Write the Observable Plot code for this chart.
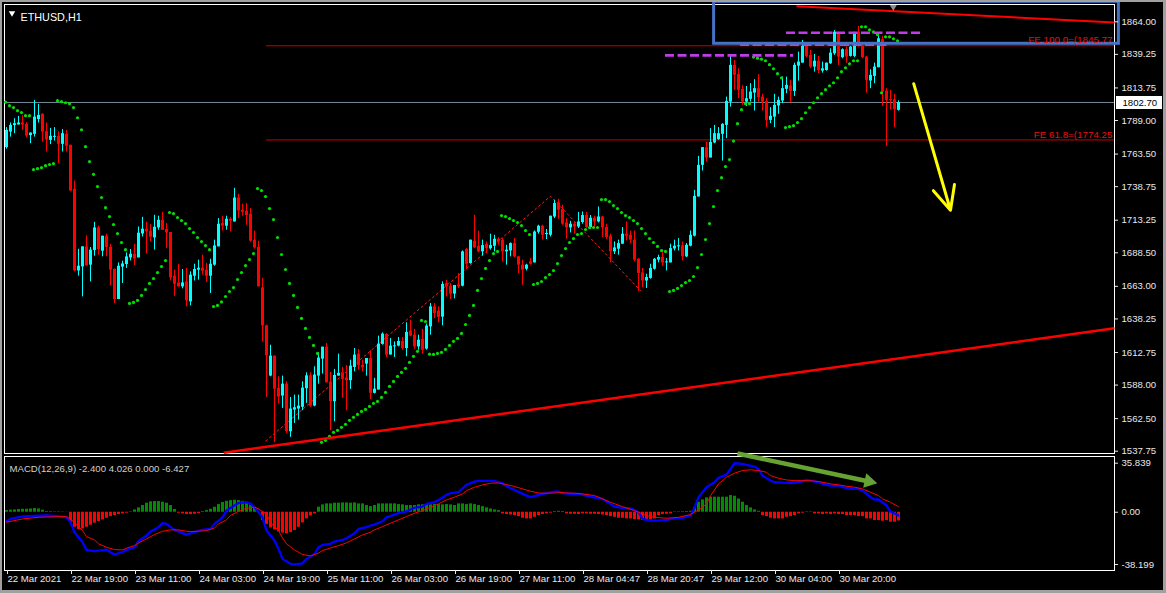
<!DOCTYPE html>
<html><head><meta charset="utf-8">
<script src="https://cdn.jsdelivr.net/npm/d3@7"></script>
<script src="https://cdn.jsdelivr.net/npm/@observablehq/plot@0.6"></script>
<style>
html,body{margin:0;padding:0;background:#000;}
#wrap{position:relative;width:1166px;height:593px;background:#000;overflow:hidden;}
#wrap svg{position:absolute;left:0;overflow:visible;}
.bd{position:absolute;background:#a0a0a0;}
</style></head><body>
<div id="wrap"></div>
<script>
// ---------------- DATA ----------------
const symbolTitle = "ETHUSD,H1";
const macdTitle = "MACD(12,26,9) -2.400 4.026 0.000 -6.427";
const priceTicks = [1864.00,1839.25,1813.75,1789.00,1763.50,1738.75,1713.25,1688.50,1663.00,1638.25,1612.75,1588.00,1562.50,1537.75];
const macdTicks = [35.839, 0, -38.199];
const timeTickBars = [1,17,33,49,65,81,97,113,129,145,161,177,193,209];
const timeLabels = ["22 Mar 2021","22 Mar 19:00","23 Mar 11:00","24 Mar 03:00","24 Mar 19:00","25 Mar 11:00","26 Mar 03:00","26 Mar 19:00","27 Mar 11:00","28 Mar 04:47","28 Mar 20:47","29 Mar 12:00","30 Mar 04:00","30 Mar 20:00"];
const lastPrice = 1802.70;

const openP = [
1768.4,1780.2,1785.1,1785.6,1787.1,1786.1,1777.5,1778.5,1789.7,1793.7,
1780.5,1773.9,1776.2,1777.0,1770.9,1778.5,1770.2,1736.7,1674.7,1677.8,
1693.0,1679.1,1690.2,1707.4,1689.7,1701.1,1692.7,1676.0,1653.0,1677.6,
1679.6,1684.6,1687.4,1684.6,1702.8,1706.4,1704.9,1699.8,1707.4,1713.2,
1706.2,1703.9,1670.7,1665.6,1662.6,1666.4,1651.2,1670.7,1675.3,1676.8,
1675.3,1670.7,1679.1,1693.0,1710.7,1708.7,1714.0,1711.9,1730.1,1720.8,
1720.1,1717.8,1698.1,1692.7,1661.8,1633.0,1594.8,1610.0,1585.5,1579.6,
1588.7,1552.5,1569.0,1569.8,1571.1,1585.2,1595.0,1572.0,1594.8,1607.7,
1616.8,1590.3,1575.3,1594.8,1597.3,1593.3,1591.3,1601.4,1611.5,1602.9,
1603.9,1608.2,1581.7,1584.2,1618.9,1626.5,1610.8,1617.0,1617.6,1621.1,
1615.8,1629.0,1625.9,1617.0,1622.6,1615.3,1632.2,1647.4,1644.2,1639.6,
1665.2,1663.1,1657.1,1664.1,1663.1,1691.0,1680.3,1697.3,1693.5,1689.2,
1694.8,1691.7,1693.5,1698.8,1698.1,1689.2,1689.9,1695.5,1685.4,1679.1,
1676.0,1681.6,1680.8,1704.1,1708.7,1702.4,1701.8,1715.7,1726.6,1721.6,
1711.2,1707.4,1710.2,1708.1,1711.5,1716.8,1707.7,1714.7,1711.9,1715.7,
1707.7,1701.1,1689.2,1691.2,1695.0,1702.6,1701.8,1698.1,1683.6,1673.2,
1667.1,1669.0,1676.0,1682.9,1684.9,1680.8,1680.8,1691.4,1693.0,1693.8,
1685.4,1693.5,1701.1,1730.9,1754.9,1768.4,1760.5,1771.9,1774.5,1778.5,
1785.3,1803.0,1830.9,1824.0,1812.7,1803.0,1805.1,1809.8,1813.2,1806.8,
1803.5,1789.1,1791.6,1800.0,1803.8,1812.7,1815.2,1811.1,1830.3,1832.6,
1845.3,1838.5,1829.6,1834.1,1826.5,1827.0,1832.1,1839.7,1854.9,1836.7,
1842.8,1837.7,1837.7,1856.1,1846.0,1837.2,1819.0,1822.5,1829.1,1850.4,
1811.3,1804.8,1804.8,1796.7];
const highP = [
1783.6,1787.1,1790.4,1792.2,1792.7,1787.4,1779.5,1804.3,1801.3,1794.2,
1787.1,1783.0,1783.6,1780.5,1782.1,1781.5,1770.2,1743.0,1691.2,1693.0,
1701.3,1692.5,1711.7,1708.7,1701.1,1702.6,1695.0,1676.0,1680.8,1682.1,
1688.4,1691.0,1695.0,1708.1,1715.5,1711.7,1709.9,1717.0,1716.3,1719.3,
1710.7,1703.9,1675.3,1679.8,1675.8,1676.6,1674.0,1679.8,1682.9,1686.7,
1680.3,1683.6,1698.1,1714.5,1716.3,1716.3,1715.3,1737.5,1733.0,1725.4,
1725.9,1722.1,1704.9,1697.3,1669.0,1633.5,1618.3,1610.0,1594.3,1594.8,
1590.5,1578.6,1580.4,1580.4,1590.5,1597.3,1597.3,1601.9,1612.5,1616.8,
1619.6,1597.6,1599.9,1611.5,1601.4,1602.9,1606.9,1615.8,1615.1,1606.9,
1608.2,1614.0,1593.1,1625.2,1627.7,1627.2,1623.4,1620.8,1624.2,1624.2,
1635.3,1637.3,1630.3,1625.9,1630.3,1634.3,1650.0,1650.0,1647.4,1666.4,
1667.7,1665.2,1663.6,1672.8,1689.9,1691.7,1698.1,1717.0,1704.9,1698.1,
1696.8,1702.6,1701.8,1700.1,1699.3,1694.2,1696.0,1699.3,1685.9,1682.9,
1679.8,1684.1,1705.1,1709.4,1709.4,1706.2,1716.3,1728.4,1729.2,1724.6,
1714.5,1712.4,1711.9,1719.1,1719.5,1719.1,1716.8,1716.3,1723.3,1716.3,
1710.2,1702.6,1696.8,1698.1,1707.7,1711.9,1704.9,1705.1,1684.1,1676.6,
1672.2,1679.8,1684.1,1686.7,1690.5,1684.1,1695.0,1698.1,1699.3,1696.8,
1695.5,1705.1,1736.0,1761.8,1768.4,1772.4,1782.8,1785.3,1783.6,1786.6,
1806.8,1837.7,1834.6,1828.3,1815.7,1814.9,1817.0,1820.0,1823.8,1808.9,
1805.6,1798.8,1808.9,1806.8,1822.0,1822.0,1819.5,1832.6,1841.0,1849.8,
1847.3,1842.2,1839.2,1837.7,1833.4,1832.6,1843.5,1857.4,1856.1,1843.5,
1844.8,1845.3,1856.1,1860.5,1847.3,1837.7,1827.6,1832.6,1852.9,1852.9,
1813.2,1811.9,1808.9,1803.9];
const lowP = [
1767.3,1776.4,1779.0,1785.6,1781.5,1775.7,1771.4,1776.4,1787.1,1772.6,
1765.1,1770.7,1773.4,1756.3,1765.1,1765.1,1735.0,1674.0,1670.7,1655.0,
1678.5,1666.4,1685.9,1686.7,1685.4,1685.4,1663.3,1650.0,1653.0,1665.2,
1676.6,1682.3,1678.8,1684.6,1700.5,1687.6,1696.8,1690.5,1705.6,1705.6,
1691.7,1667.1,1655.5,1662.6,1661.1,1647.4,1648.2,1667.1,1667.7,1671.5,
1666.0,1657.6,1678.3,1693.0,1705.1,1705.6,1704.3,1711.9,1714.5,1716.3,
1709.4,1696.5,1691.4,1662.6,1620.8,1578.6,1594.3,1544.2,1573.6,1570.3,
1551.3,1548.3,1558.9,1561.4,1568.5,1574.1,1571.1,1571.5,1588.7,1596.3,
1589.7,1553.3,1560.1,1594.8,1577.9,1568.5,1584.7,1598.1,1599.3,1598.1,
1594.8,1577.1,1581.2,1584.2,1618.3,1609.0,1610.8,1609.0,1617.0,1614.5,
1609.5,1624.7,1615.1,1614.5,1611.5,1614.5,1625.9,1638.6,1635.3,1633.0,
1655.0,1653.0,1653.5,1661.4,1662.6,1675.8,1679.8,1691.7,1688.4,1685.9,
1687.9,1690.5,1689.2,1694.2,1681.6,1679.1,1685.4,1684.9,1672.8,1663.9,
1674.7,1679.1,1680.8,1702.6,1698.1,1698.6,1700.5,1714.5,1714.0,1709.4,
1698.8,1703.6,1702.6,1706.9,1710.2,1706.9,1706.2,1706.9,1711.2,1700.1,
1698.6,1680.8,1687.2,1686.7,1695.0,1697.5,1695.5,1681.6,1658.8,1662.1,
1661.4,1668.4,1675.3,1680.8,1678.3,1674.7,1680.8,1689.9,1689.9,1682.3,
1684.9,1693.0,1700.5,1730.9,1750.6,1757.5,1760.5,1771.4,1773.9,1758.2,
1775.2,1799.2,1811.9,1805.6,1800.5,1799.7,1803.0,1796.2,1803.0,1796.2,
1783.6,1786.6,1783.6,1793.7,1801.8,1809.4,1802.3,1807.3,1818.9,1832.6,
1836.7,1828.3,1825.8,1824.5,1825.0,1826.5,1831.6,1838.5,1830.9,1835.9,
1832.6,1837.2,1836.7,1844.8,1835.9,1809.8,1813.2,1817.0,1829.1,1799.7,
1769.4,1796.9,1783.6,1796.2];
const closeP = [
1781.5,1785.3,1786.6,1787.1,1785.6,1777.2,1779.5,1791.6,1792.9,1780.2,
1774.2,1777.0,1777.0,1770.9,1779.0,1769.4,1735.5,1674.7,1678.3,1693.0,
1678.5,1690.5,1707.4,1691.0,1701.1,1692.5,1675.3,1653.0,1678.3,1680.0,
1685.4,1687.4,1683.8,1703.4,1706.4,1704.3,1700.3,1707.9,1713.2,1705.6,
1703.6,1669.4,1664.6,1662.6,1665.6,1652.0,1671.5,1675.8,1676.8,1674.5,
1670.7,1679.8,1693.7,1710.2,1708.7,1714.0,1712.4,1730.1,1720.3,1719.3,
1716.8,1697.3,1692.2,1662.6,1633.0,1610.2,1610.0,1584.9,1578.9,1588.7,
1552.5,1569.8,1570.8,1572.0,1585.7,1595.0,1572.0,1595.6,1608.5,1616.8,
1589.7,1575.3,1595.3,1596.9,1592.3,1591.3,1602.4,1610.8,1602.9,1601.1,
1608.2,1581.7,1584.9,1619.1,1626.7,1610.8,1617.6,1617.8,1621.1,1615.8,
1628.0,1625.2,1617.0,1622.1,1614.5,1632.8,1647.4,1642.4,1639.4,1664.4,
1662.6,1657.1,1663.6,1662.6,1689.2,1679.8,1698.1,1692.2,1689.2,1694.0,
1691.7,1694.0,1698.8,1696.8,1689.2,1690.5,1695.5,1685.4,1679.1,1675.3,
1679.1,1679.8,1704.3,1708.7,1701.8,1703.1,1716.3,1725.9,1720.8,1710.2,
1707.4,1710.2,1708.1,1711.9,1716.8,1707.7,1714.7,1711.9,1715.7,1707.4,
1700.1,1689.2,1692.2,1695.5,1702.6,1701.1,1698.1,1682.9,1672.8,1667.1,
1669.7,1676.6,1683.6,1684.9,1680.8,1681.6,1691.7,1693.5,1693.8,1685.4,
1694.2,1701.8,1731.4,1754.9,1768.4,1760.5,1772.4,1779.0,1779.0,1786.1,
1803.5,1830.9,1823.3,1811.9,1803.0,1805.6,1810.6,1813.2,1806.3,1803.0,
1789.1,1792.2,1800.5,1804.3,1813.2,1815.7,1811.1,1830.9,1833.4,1845.3,
1837.7,1829.6,1834.1,1827.0,1828.3,1832.6,1840.2,1856.1,1837.2,1842.8,
1837.2,1844.8,1854.9,1846.0,1836.7,1819.5,1823.3,1829.6,1851.1,1810.6,
1804.3,1804.3,1797.2,1802.7];
const sarP = [
1803.0,1800.3,1798.8,1796.5,1795.0,1792.7,1792.7,1751.7,1752.4,1753.2,
1754.7,1755.5,1756.2,1804.1,1803.3,1802.5,1801.8,1798.8,1791.1,1782.0,
1769.1,1757.8,1748.1,1738.8,1730.5,1722.8,1716.0,1709.9,1703.1,1696.3,
1690.9,1650.0,1650.8,1652.3,1656.1,1660.6,1665.2,1668.9,1673.5,1678.1,
1682.6,1719.1,1718.3,1715.3,1713.0,1710.7,1706.9,1703.9,1700.1,1697.0,
1694.0,1690.9,1647.7,1648.5,1651.2,1655.3,1659.1,1662.1,1668.2,1673.5,
1678.8,1683.4,1687.9,1737.3,1735.8,1731.2,1722.1,1713.7,1700.1,1687.2,
1675.8,1665.2,1656.1,1647.0,1638.6,1631.0,1624.2,1618.1,1612.0,1544.5,
1546.0,1549.0,1552.1,1553.6,1555.9,1558.2,1561.2,1563.5,1565.7,1568.0,
1569.5,1571.8,1574.1,1575.6,1578.6,1582.4,1587.0,1590.8,1594.6,1597.6,
1600.7,1605.2,1609.8,1613.6,1637.1,1636.3,1611.5,1611.3,1612.0,1612.8,
1615.1,1618.1,1621.2,1623.4,1627.2,1634.0,1640.9,1648.5,1659.9,1668.9,
1676.6,1682.6,1687.9,1689.5,1716.8,1716.0,1714.5,1713.0,1711.5,1709.2,
1705.4,1702.4,1664.4,1665.2,1666.7,1669.7,1672.0,1675.0,1680.3,1686.4,
1691.7,1696.3,1699.3,1702.4,1703.1,1706.2,1707.7,1707.7,1707.7,1728.9,
1728.9,1727.4,1724.4,1722.1,1719.1,1716.8,1715.3,1713.0,1710.7,1706.9,
1703.1,1699.3,1696.3,1693.3,1690.2,1689.5,1659.1,1659.9,1661.4,1663.6,
1665.9,1667.4,1670.5,1677.3,1687.2,1698.6,1710.7,1723.6,1735.8,1745.6,
1754.0,1759.3,1773.4,1786.6,1797.2,1801.8,1801.8,1837.2,1836.4,1835.6,
1834.4,1831.4,1828.3,1824.6,1821.5,1783.6,1784.3,1785.1,1787.4,1790.4,
1794.9,1798.8,1802.5,1806.3,1809.4,1812.4,1815.4,1817.7,1821.5,1826.1,
1829.1,1832.1,1834.4,1834.4,1860.2,1860.2,1857.9,1856.3,1854.2,1810.0,
1852.6,1852.6,1851.1,1849.6];
const histV = [
1.2,1.5,1.7,2.0,2.2,2.2,2.4,2.7,2.4,1.5,
0.5,0.4,0.3,0.3,0.2,0.1,-7.3,-11.0,-12.7,-12.2,
-11.0,-9.5,-8.0,-6.8,-5.6,-4.4,-3.2,-2.4,-1.7,-1.2,
-0.7,0.3,1.7,3.2,4.9,6.6,7.6,7.8,7.8,7.3,
6.6,4.9,2.0,-0.7,-1.2,-1.7,-1.7,-1.5,-1.0,0.5,
1.2,2.2,3.7,5.6,7.1,8.0,8.5,8.8,8.5,8.0,
7.3,6.1,3.2,-0.5,-6.1,-9.0,-11.5,-12.9,-14.4,-15.3,
-15.8,-14.9,-13.4,-11.0,-7.8,-4.9,-2.7,-1.2,3.7,5.4,
6.1,6.1,6.6,6.6,6.8,6.8,6.6,6.8,6.1,6.1,
4.9,4.1,4.9,6.1,6.1,6.1,6.1,6.1,5.6,5.4,
4.9,4.9,4.9,5.4,5.4,5.6,5.4,5.6,5.6,5.4,
5.6,5.4,4.9,6.1,6.1,5.6,6.1,5.6,4.9,4.1,
3.2,2.4,1.7,1.2,-1.2,-1.7,-2.0,-2.4,-3.2,-4.4,
-4.9,-4.9,-3.7,-2.4,-1.7,-1.2,-0.7,0.5,0.7,0.5,
-1.2,-1.5,-1.5,-1.7,-1.2,-1.2,-1.5,-1.5,-1.7,-2.0,
-2.4,-3.2,-3.7,-4.4,-4.4,-4.9,-4.9,-5.4,-5.6,-6.1,
-6.1,-5.6,-4.9,-2.4,-1.7,-1.5,-1.2,0.3,0.3,0.4,
0.5,0.7,3.2,7.3,9.0,10.5,11.0,11.0,11.0,11.0,
11.0,12.2,11.7,9.7,7.3,4.9,3.2,1.7,0.7,-2.4,
-3.2,-4.4,-4.9,-4.9,-4.9,-3.7,-3.2,-2.4,-1.2,-0.7,
0.3,0.3,-1.2,-1.2,-1.7,-1.2,-1.7,-1.2,-1.7,-1.7,
-2.4,-2.4,-2.4,-3.2,-3.2,-4.9,-4.9,-6.1,-6.1,-6.6,
-6.1,-7.3,-7.3,-6.4];
const macdBars = [1,2,5,8,11,14,16,17,18,20,21,23,24,26,27,28,30,31,33,34,36,37,39,40,41,43,45,46,48,49,50,52,53,55,56,58,59,61,62,63,65,66,68,69,70,72,73,75,76,78,79,80,82,83,85,86,88,89,91,92,93,95,96,98,99,101,102,103,105,106,108,109,111,112,114,115,116,118,119,121,123,125,126,128,130,132,133,135,136,138,139,140,142,144,146,147,150,153,155,157,159,160,162,164,166,168,170,172,173,174,175,176,178,179,181,182,183,185,186,188,189,190,192,193,195,197,199,201,202,204,205,207,209,210,212,214,215,217,218,219,221,222,224];
const macdVals = [-6.6,-4.9,-3.1,-2.6,-2.4,-2.9,-3.7,-7.3,-14.6,-21.9,-27.5,-28.5,-28.0,-27.3,-29.2,-30.9,-29.2,-27.5,-25.6,-21.2,-17.0,-14.1,-10.9,-8.0,-8.5,-12.9,-15.3,-16.3,-14.6,-13.4,-12.9,-12.2,-8.5,-3.7,1.2,4.9,6.8,7.3,6.1,3.7,-3.7,-13.4,-20.7,-26.8,-34.1,-37.7,-38.2,-37.3,-34.1,-30.5,-25.6,-23.9,-23.1,-21.4,-20.2,-19.0,-15.3,-12.2,-10.9,-9.7,-9.0,-6.6,-3.7,-1.7,-0.7,0.7,2.0,3.2,4.1,6.1,7.3,9.0,12.7,13.9,14.6,17.5,20.0,22.4,22.9,22.9,22.7,21.2,19.0,16.3,13.4,11.0,11.7,13.4,13.9,15.1,15.1,13.9,13.4,13.4,12.2,11.5,9.7,4.1,3.2,2.9,0.0,-4.9,-6.1,-6.1,-5.6,-4.4,-4.1,-2.4,3.2,11.0,14.6,18.3,21.9,25.1,27.5,31.6,35.8,35.4,34.6,33.4,31.6,26.8,23.1,21.9,21.7,21.2,21.9,23.6,23.1,21.9,20.7,19.5,19.5,18.3,17.1,17.1,15.8,11.0,9.3,9.3,4.9,0.5,-2.4];
const signalBars = [1,5,9,14,16,18,20,21,23,24,26,28,30,31,33,34,36,38,40,42,44,46,47,49,51,53,54,56,57,59,61,63,64,66,67,69,70,71,73,75,77,79,80,82,84,86,88,90,92,93,95,97,99,101,103,105,107,109,111,113,115,116,118,120,122,124,126,128,130,132,134,136,138,139,141,143,145,148,152,155,158,161,163,166,169,172,174,176,177,179,181,183,185,187,189,191,192,194,196,198,200,202,204,206,207,209,211,213,215,217,219,220,222,224];
const signalVals = [-7.3,-4.9,-3.7,-3.2,-3.2,-7.3,-13.4,-17.8,-20.2,-23.1,-25.6,-27.3,-27.5,-26.3,-24.4,-22.4,-19.5,-16.3,-13.9,-12.9,-12.9,-13.9,-14.1,-13.9,-13.4,-11.5,-8.5,-5.6,-2.4,0.7,2.9,3.7,2.4,-1.2,-7.3,-13.4,-18.8,-23.1,-27.5,-30.9,-31.9,-29.9,-28.0,-26.1,-24.4,-22.4,-19.5,-16.6,-14.6,-12.9,-10.5,-8.0,-5.6,-3.2,-0.7,1.2,3.7,6.1,9.0,11.0,13.4,15.8,18.3,20.0,21.2,21.4,20.2,18.8,17.1,15.3,14.1,13.9,14.1,14.6,14.1,13.9,13.4,12.2,7.3,4.1,1.2,-2.4,-3.7,-4.4,-3.7,-1.7,1.7,6.1,12.0,20.7,25.6,28.5,30.5,31.0,30.5,29.2,26.8,24.8,23.6,23.1,23.1,23.1,22.4,21.4,20.7,20.0,19.0,18.3,17.1,14.6,12.2,9.7,7.3,4.0];

// drawn objects (bar index, price)
const feRatios = [100.0, 61.8];
const feLevels = [1845.77, 1774.25];
const feStartBar = 66;
const abcBars = [65.8, 137, 159.5];
const abcPrices = [1545.5, 1731.5, 1659.8];
const trendFromBar = [55.3, 198.5];
const trendFromPrice = [1536.6, 1875.9];
const trendToBar = [278, 278];
const trendToPrice = [1631.2, 1863.5];
const trendWidth = [2.5, 2];
const dashPrices = [1838.5, 1846.6, 1855.7];
const dashFromBar = [165.75, 184.5, 196];
const dashToBar = [197.75, 221.25, 229.5];
const boxBars = [177.9, 279.1];
const boxPrices = [1879.2, 1847.3];
const yellowArrow = {b1: 227.8, p1: 1817.0, b2: 237.0, p2: 1720.8};
const greenArrow = {b1: 183.75, v1: 42.9, b2: 216.6, v2: 22.5};  // shaft ends at head centroid
const greenHeadAngle = 102; // degrees clockwise from up
const shiftBar = 222.7;
const priceBoxBars = [278.5, 290];

// ---------------- BUILD ----------------
const FONT = "'Liberation Sans', Arial, sans-serif";
const BULL = "#00ffff", BEAR = "#ff0000";
const candles = openP.map((o, k) => {
  const c = closeP[k];
  let bt = Math.max(o, c), bb = Math.min(o, c);
  if (bt - bb < 0.8) { const m = (bt + bb) / 2; bt = m + 0.4; bb = m - 0.4; }
  return {i: k + 1, o, h: highP[k], l: lowP[k], c, bt, bb};
});
const sar = sarP.map((v, k) => ({i: k + 1, v}));
const hist = histV.map((v, k) => ({i: k + 1, v}));
const macd = macdBars.map((b, k) => ({i: b, v: macdVals[k]}));
const signal = signalBars.map((b, k) => ({i: b, v: signalVals[k]}));
const abc = abcBars.map((b, k) => ({i: b, p: abcPrices[k]}));
const trends = trendFromBar.map((b, k) => ({x1: b, y1: trendFromPrice[k], x2: trendToBar[k], y2: trendToPrice[k], w: trendWidth[k]}));
const dashes = dashPrices.map((p, k) => ({p, a: dashFromBar[k], b: dashToBar[k]}));
const fe = feLevels.map((p, k) => ({p, r: feRatios[k]}));
const labelOf = new Map(timeTickBars.map((b, k) => [b, timeLabels[k]]));
const col = d => d.c >= d.o ? BULL : BEAR;

const xScale = {type: "linear", domain: [0, 278], range: [2, 1114], axis: null, label: null};
const baseStyle = {background: "transparent", color: "#e8e8e8", fontFamily: FONT, fontSize: "9.6px", overflow: "visible"};

const mainSvg = Plot.plot({
  width: 1166, height: 455,
  marginLeft: 4, marginRight: 52, marginTop: 4, marginBottom: 2,
  style: baseStyle,
  x: xScale,
  y: {domain: [1537.75, 1864], range: [450.7, 21.3], axis: null, label: null},
  marks: [
    Plot.frame({stroke: "#ffffff"}),
    Plot.ruleY(fe, {y: "p", x1: () => feStartBar, x2: () => 278, stroke: "#cc0000", strokeWidth: 1}),
    Plot.ruleY([lastPrice], {y: d => d, stroke: "#778899", strokeWidth: 1}),
    Plot.line(abc, {x: "i", y: "p", stroke: "#ff1a1a", strokeWidth: 1, strokeDasharray: "2,3"}),
    Plot.ruleX(candles, {x: "i", y1: "l", y2: "h", stroke: col, strokeWidth: 1}),
    Plot.ruleX(candles, {x: "i", y1: "bb", y2: "bt", stroke: col, strokeWidth: 3}),
    Plot.dot(sar, {x: "i", y: "v", r: 1.6, fill: "#00e000", stroke: "none", dx: -1}),
    Plot.link(trends, {x1: "x1", y1: "y1", x2: "x2", y2: "y2", stroke: "#ff0000", strokeWidth: d => d.w}),
    Plot.ruleY(dashes, {y: "p", x1: "a", x2: "b", stroke: "#c23be8", strokeWidth: 2.6, strokeDasharray: "9,3.5"}),
    Plot.rect([0], {x1: () => boxBars[0], x2: () => boxBars[1], y1: () => boxPrices[0], y2: () => boxPrices[1], fill: "none", stroke: "#4472c4", strokeWidth: 3}),
    Plot.arrow([yellowArrow], {x1: "b1", y1: "p1", x2: "b2", y2: "p2", stroke: "#ffff00", strokeWidth: 3, headLength: 13, headAngle: 50}),
    Plot.text(fe, {y: "p", frameAnchor: "right", textAnchor: "end", dx: -2, dy: -5.5, fill: "#e81010", fontSize: 9.8,
      text: d => `FE ${d.r.toFixed(1)}=(${d.p.toFixed(2)}`}),
    Plot.axisY(priceTicks, {anchor: "right", tickSize: 3, tickPadding: 4, tickFormat: d => d.toFixed(2), label: null, fontSize: 9.6, color: "#e8e8e8"}),
    Plot.ruleY([lastPrice], {y: d => d, x1: () => priceBoxBars[0], x2: () => priceBoxBars[1], stroke: "#ffffff", strokeWidth: 13}),
    Plot.text([lastPrice], {y: d => d, frameAnchor: "right", textAnchor: "start", dx: 8, text: d => d.toFixed(2), fill: "#000000", fontSize: 9.6}),
    Plot.dot([shiftBar], {x: d => d, frameAnchor: "top", dy: 2.5, symbol: "triangle", r: 2.6, rotate: 180, fill: "#8c8c8c", stroke: "none"}),
    Plot.dot([0], {frameAnchor: "top-left", dx: 7.5, dy: 8.5, symbol: "triangle", r: 2.4, rotate: 180, fill: "#ffffff", stroke: "none"}),
    Plot.text([symbolTitle], {frameAnchor: "top-left", dx: 16, dy: 9, text: d => d, textAnchor: "start", fill: "#ffffff", fontSize: 10.8})
  ]
});

const macdSvg = Plot.plot({
  width: 1166, height: 138,
  marginLeft: 4, marginRight: 52, marginTop: 1, marginBottom: 23,
  style: baseStyle,
  x: xScale,
  y: {domain: [-38.199, 35.839], range: [109, 7.7], axis: null, label: null},
  marks: [
    Plot.frame({stroke: "#ffffff"}),
    Plot.ruleX(hist, {x: "i", y1: () => 0, y2: "v", stroke: d => d.v >= 0 ? "#008c00" : "#ff0000", strokeWidth: 3}),
    Plot.line(macd, {x: "i", y: "v", stroke: "#0000ff", strokeWidth: 2.3, curve: "linear"}),
    Plot.line(signal, {x: "i", y: "v", stroke: "#ff0000", strokeWidth: 1, curve: "linear"}),
    Plot.link([greenArrow], {x1: "b1", y1: "v1", x2: "b2", y2: "v2", stroke: "#67a332", strokeWidth: 4.5}),
    Plot.dot([greenArrow], {x: "b2", y: "v2", symbol: "triangle", r: 5.5, rotate: greenHeadAngle, fill: "#67a332", stroke: "none"}),
    Plot.axisY(macdTicks, {anchor: "right", tickSize: 3, tickPadding: 4, tickFormat: d => d === 0 ? "0.00" : String(d), label: null, fontSize: 9.6, color: "#e8e8e8"}),
    Plot.axisX(timeTickBars, {anchor: "bottom", tickSize: 4, tickPadding: 1, textAnchor: "start", dx: 1, tickFormat: d => labelOf.get(d), label: null, fontSize: 9.6, color: "#e8e8e8"}),
    Plot.text([macdTitle], {frameAnchor: "top-left", dx: 5, dy: 9, text: d => d, textAnchor: "start", fill: "#d0d0d0", fontSize: 9.6})
  ]
});

const wrap = document.getElementById("wrap");
mainSvg.style.top = "0px";
macdSvg.style.top = "455px";
wrap.appendChild(mainSvg);
wrap.appendChild(macdSvg);
// window border
[["0px","0px","1166px","2px"],["0px","0px","2px","593px"],["1163px","0px","3px","593px"],["0px","590px","1166px","3px"]].forEach(([l,t,w,h]) => {
  const d = document.createElement("div"); d.className = "bd";
  d.style.left = l; d.style.top = t; d.style.width = w; d.style.height = h;
  wrap.appendChild(d);
});
</script></body></html>
